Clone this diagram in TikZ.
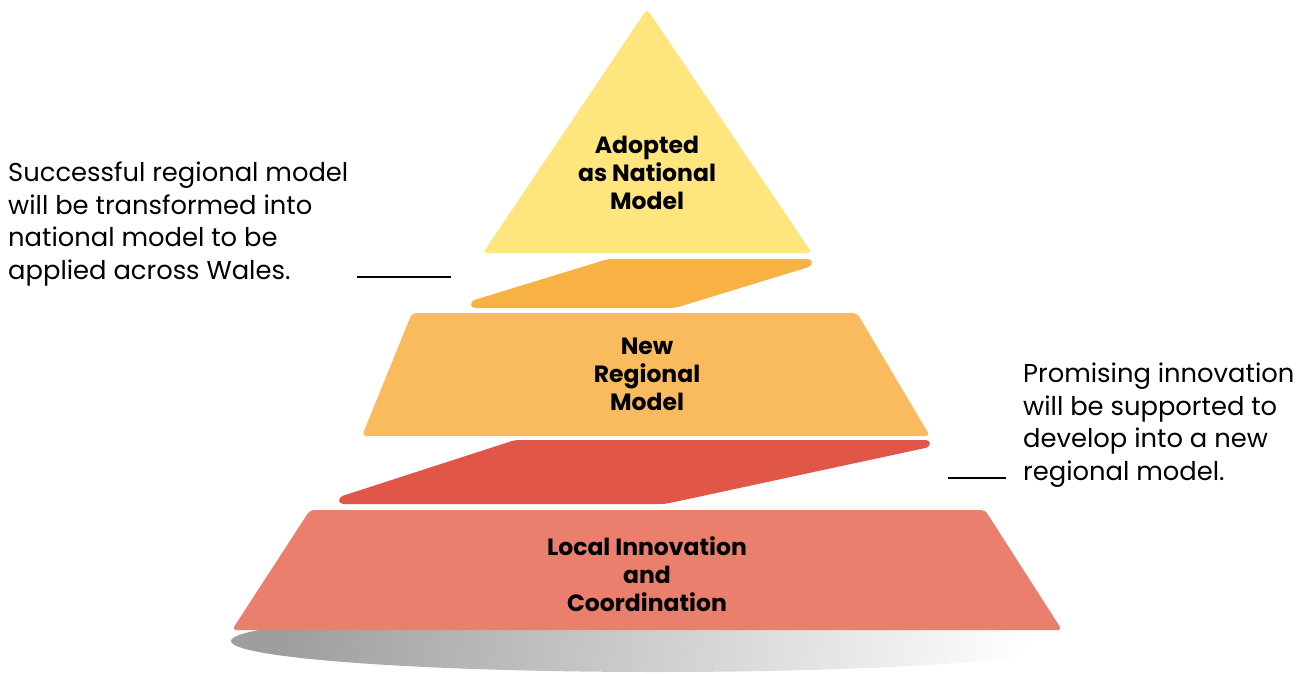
\documentclass[tikz,border=0pt]{standalone}
\usepackage{fontspec}
\setmainfont{Poppins}
\usetikzlibrary{shapes.geometric}
\definecolor{tierTop}{HTML}{FEE57E}
\definecolor{linkTop}{HTML}{F7B243}
\definecolor{tierMid}{HTML}{F9BB5D}
\definecolor{linkLow}{HTML}{E0574A}
\definecolor{tierLow}{HTML}{E97F6C}
\tikzset{
  tier/.style={rounded corners=4pt},
  tierlabel/.style={align=center, font=\fontsize{23.5}{28}\selectfont\bfseries, text=black, inner sep=0pt},
  note/.style={align=left, anchor=north west, font=\fontsize{25.8}{32.5}\selectfont, text=black, inner sep=0pt},
  leader/.style={line width=1.4pt, black}
}
\begin{document}
\begin{tikzpicture}[x=1pt,y=-1pt]
\useasboundingbox (0,0) rectangle (1306,673);

% ground shadow under the pyramid
\shade[left color=black!38, right color=white, shading angle=80]
  (658,641) ellipse [x radius=427, y radius=31];

% base tier
\fill[tierLow, tier] (310,510) -- (985,510) -- (1062,630) -- (232,630) -- cycle;
% slanted link between base and middle tier
\fill[linkLow, tier] (339,504) -- (339,497) -- (515,440) -- (930,440) -- (930,447) -- (665,504) -- cycle;
% middle tier
\fill[tierMid, tier] (412,313) -- (857,313) -- (930,436) -- (362,436) -- cycle;
% slanted link between middle and top tier
\fill[linkTop, tier] (471,308) -- (471,301) -- (608,259) -- (812,259) -- (812,266) -- (675,308) -- cycle;
% top tier
\fill[tierTop, tier] (647,9) -- (812,253) -- (483,253) -- cycle;

% tier labels
\node[tierlabel] (national) at (647,173) {Adopted\\as National\\Model};
\node[tierlabel] (regional) at (647,374) {New\\Regional\\Model};
\node[tierlabel] (local) at (647,574) {Local Innovation\\and\\Coordination};

% side notes
\node[note] (noteLeft) at (8,162) {Successful regional model\\will be transformed into\\national model to be\\applied across Wales.};
\node[note] (noteRight) at (1023,363) {Promising innovation\\will be supported to\\develop into a new\\regional model.};

% leader lines
\coordinate (leftA) at (357,277);
\coordinate (leftB) at (451,277);
\coordinate (rightA) at (948,478);
\coordinate (rightB) at (1006,478);
\draw[leader] (leftA) -- (leftB);
\draw[leader] (rightA) -- (rightB);
\end{tikzpicture}
\end{document}
